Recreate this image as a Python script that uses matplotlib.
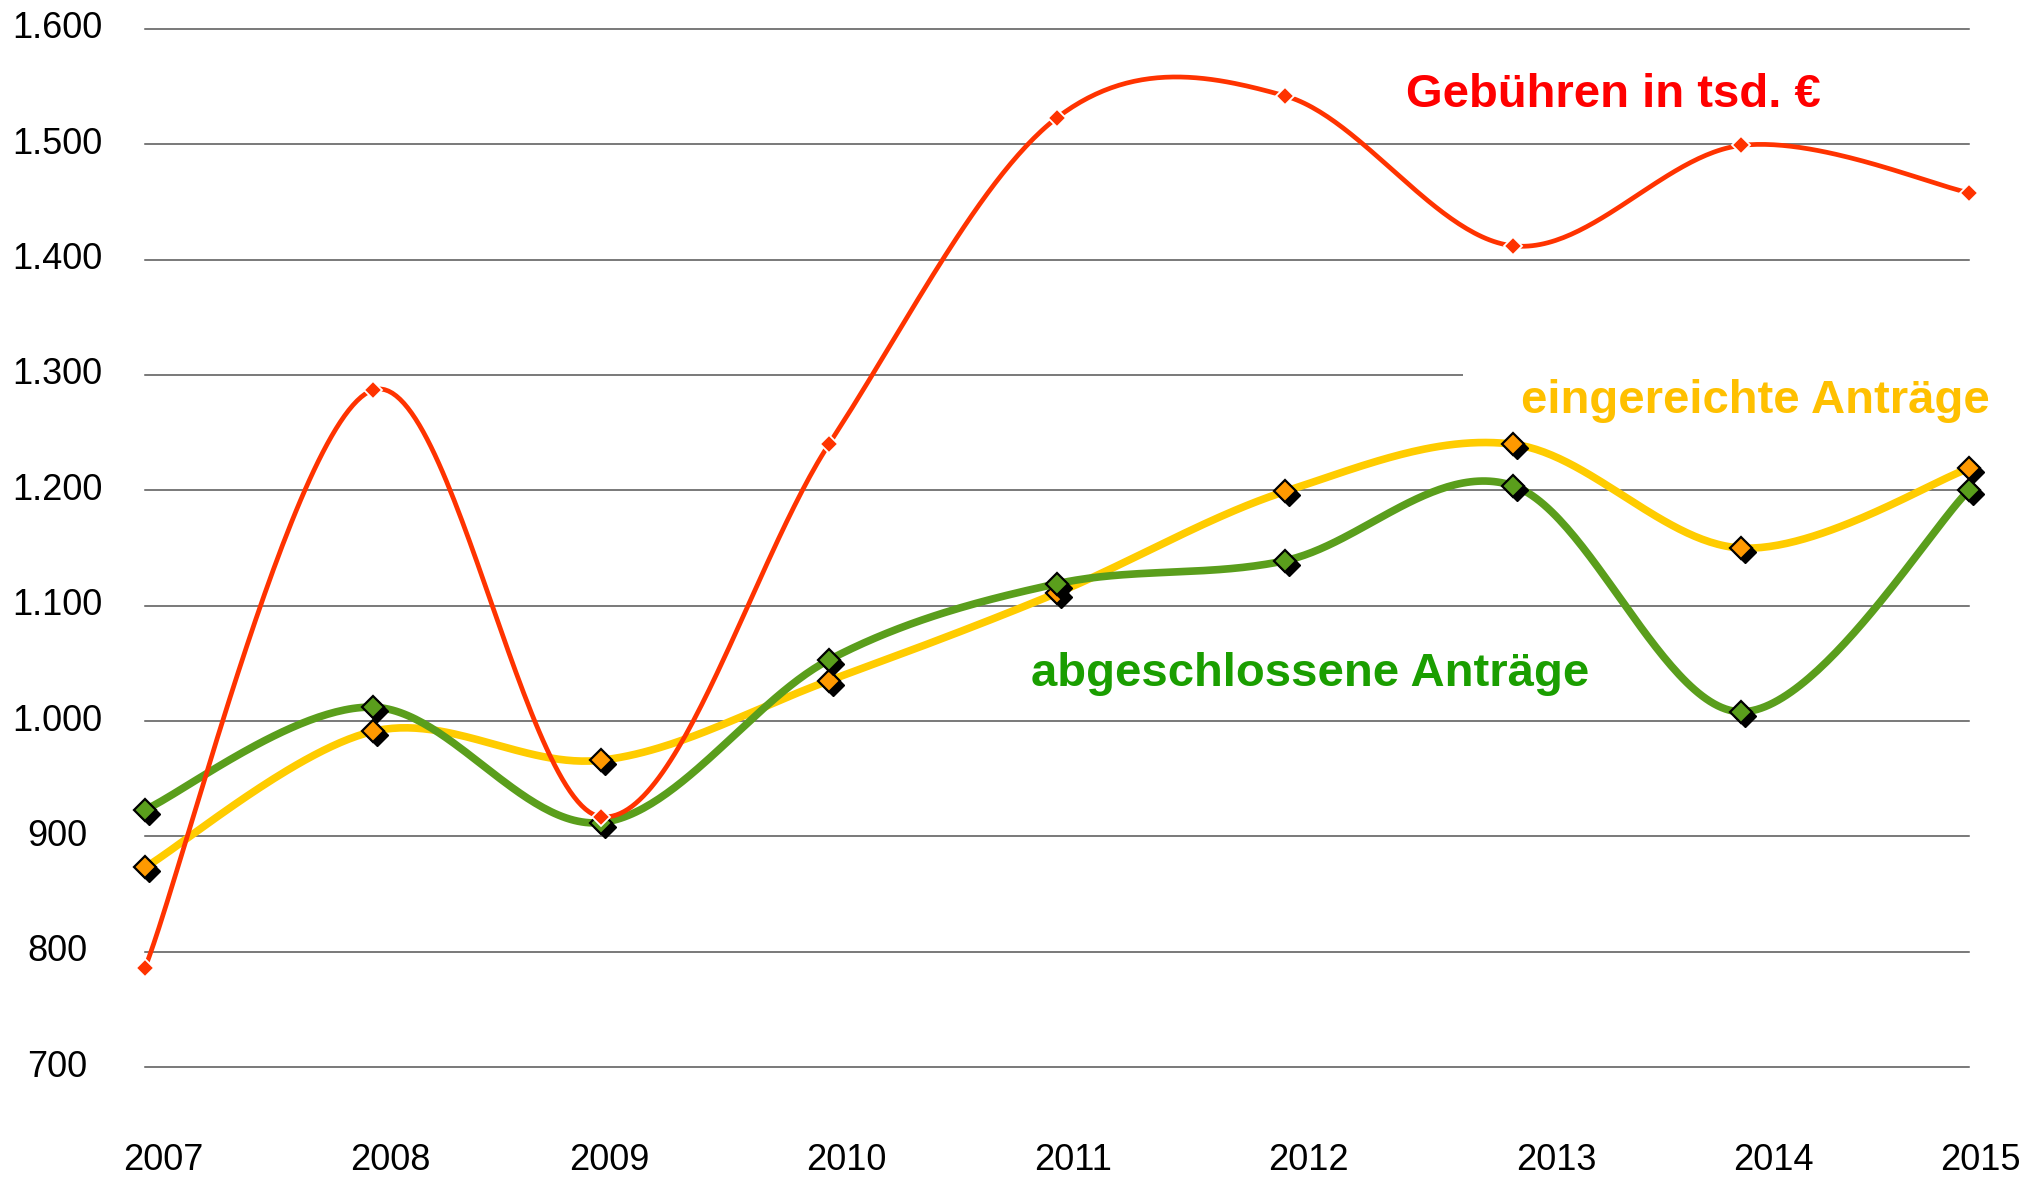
import matplotlib
matplotlib.use('Agg')
import matplotlib.pyplot as plt
from matplotlib import transforms
from matplotlib.patches import Rectangle
import numpy as np

plt.rcParams['font.family'] = ['Liberation Sans', 'DejaVu Sans']

# data
years = [2007, 2008, 2009, 2010, 2011, 2012, 2013, 2014, 2015]
gebuehren = [786, 1287, 917, 1240, 1523, 1542, 1412, 1499, 1458]
eingereicht = [873, 991, 966, 1035, 1111, 1199, 1240, 1150, 1219]
abgeschlossen = [923, 1012, 912, 1053, 1119, 1139, 1204, 1008, 1200]

y_ticks = [700, 800, 900, 1000, 1100, 1200, 1300, 1400, 1500, 1600]
y_tick_labels = ['700', '800', '900', '1.000', '1.100', '1.200',
                 '1.300', '1.400', '1.500', '1.600']
x_tick_labels = [str(y) for y in years]
# year labels sit slightly irregularly under the points (axes fraction)
x_label_pos = [0.0804, 0.1923, 0.3003, 0.4172, 0.5291, 0.6450, 0.7673, 0.8743, 0.9763]

RED = '#FF3300'
YELLOW = '#FFCC00'
ORANGE = '#FF9900'
GREEN = '#5A9E1C'


def smooth(x, y, n=60):
    """Excel-like smoothed line (Catmull-Rom as cubic Bezier)."""
    P = np.column_stack([x, y]).astype(float)
    P = np.vstack([P[0], P, P[-1]])
    t = np.linspace(0, 1, n)[:, None]
    pts = []
    for i in range(len(x) - 1):
        p0, p3 = P[i + 1], P[i + 2]
        c1 = p0 + (P[i + 2] - P[i]) / 6
        c2 = p3 - (P[i + 3] - P[i + 1]) / 6
        seg = ((1 - t) ** 3 * p0 + 3 * (1 - t) ** 2 * t * c1
               + 3 * (1 - t) * t ** 2 * c2 + t ** 3 * p3)
        pts.append(seg if i == 0 else seg[1:])
    pts = np.vstack(pts)
    return pts[:, 0], pts[:, 1]


fig = plt.figure(figsize=(20.28, 11.78), dpi=100)
ax = fig.add_axes([0, 0, 1, 1])
ax.set_xlim(2006.364, 2015.259)
ax.set_ylim(603.8, 1625.1)
ax.axis('off')

# grid lines
for v in y_ticks:
    ax.plot([years[0], years[-1]], [v, v], color='#555555', lw=1.1, zorder=1)
# white label box hiding the end of the 1.300 line
ax.add_patch(Rectangle((2012.78, 1285), 3, 40, facecolor='white',
                       edgecolor='none', zorder=1.5))

shadow = transforms.offset_copy(ax.transData, fig=fig, x=4, y=-4, units='dots')

# eingereichte Anträge
xs, ys = smooth(years, eingereicht)
ax.plot(xs, ys, color=YELLOW, lw=5.5, solid_capstyle='round', zorder=2)
ax.plot(years, eingereicht, ls='none', marker='D', ms=11, color='black',
        transform=shadow, zorder=2.4)
ax.plot(years, eingereicht, ls='none', marker='D', ms=11, mfc=ORANGE,
        mec='black', mew=1.6, zorder=2.5)

# abgeschlossene Anträge
xs, ys = smooth(years, abgeschlossen)
ax.plot(xs, ys, color=GREEN, lw=5.5, solid_capstyle='round', zorder=3)
ax.plot(years, abgeschlossen, ls='none', marker='D', ms=11, color='black',
        transform=shadow, zorder=3.4)
ax.plot(years, abgeschlossen, ls='none', marker='D', ms=11, mfc=GREEN,
        mec='black', mew=1.6, zorder=3.5)

# Gebühren
xs, ys = smooth(years, gebuehren)
ax.plot(xs, ys, color=RED, lw=3.4, solid_capstyle='round', zorder=4)
ax.plot(years, gebuehren, ls='none', marker='D', ms=9, mfc=RED,
        mec='white', mew=1.3, zorder=4.5)

# axis labels
ytrans = transforms.blended_transform_factory(ax.transAxes, ax.transData)
for v, lab in zip(y_ticks, y_tick_labels):
    ax.text(0.0281, v, lab, transform=ytrans, ha='center', va='center',
            fontsize=26, color='black')
for xp, lab in zip(x_label_pos, x_tick_labels):
    ax.text(xp, 0.007, lab, transform=ax.transAxes, ha='center',
            va='baseline', fontsize=26, color='black')

# series labels
ax.text(0.6933, 0.9092, 'Gebühren in tsd. €', transform=ax.transAxes,
        fontsize=34, fontweight='bold', color='#FF0000', va='baseline')
ax.text(0.7500, 0.6494, 'eingereichte Anträge', transform=ax.transAxes,
        fontsize=34, fontweight='bold', color='#FFC000', va='baseline')
ax.text(0.5084, 0.4177, 'abgeschlossene Anträge', transform=ax.transAxes,
        fontsize=34, fontweight='bold', color='#1A9E00', va='baseline')

fig.savefig('out.png', dpi=100, facecolor='white')
plt.close(fig)
